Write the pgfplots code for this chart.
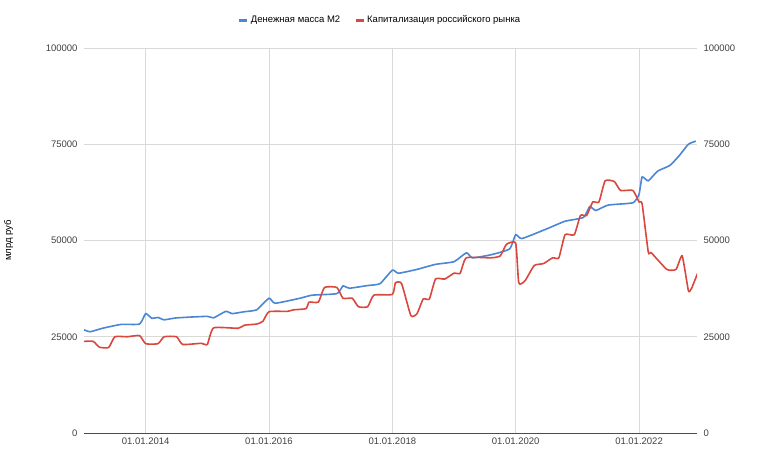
\documentclass[border=0pt]{standalone}
\usepackage{pgfplots}
\pgfplotsset{compat=1.18}
\usepackage{fontspec}
\setmainfont{Liberation Sans}
\definecolor{cb}{HTML}{4A86D4}
\definecolor{cr}{HTML}{D9473F}
\definecolor{gr}{HTML}{D9D9D9}
\begin{document}
\begin{tikzpicture}
\useasboundingbox (-84pt,-27pt) rectangle (674pt,433pt);
\begin{axis}[scale only axis, width=613pt, height=385pt, at={(0,0)}, anchor=south west,
 xmin=2013, xmax=2022.94, ymin=0, ymax=100000, scaled y ticks=false,
 xtick={2014,2016,2018,2020,2022},
 xticklabels={01.01.2014,01.01.2016,01.01.2018,01.01.2020,01.01.2022},
 ytick={0,25000,50000,75000,100000},
 yticklabels={0,25000,50000,75000,100000},
 axis y line*=left, axis x line*=bottom,
 y axis line style={draw=none}, x axis line style={draw=black!70},
 major tick length=0pt,
 grid=major, major grid style={gr, line width=0.8pt},
 tick label style={font=\fontsize{9.5}{10}\selectfont, text=black!75},
 yticklabel style={xshift=-3pt},
 xticklabel style={yshift=-1pt},
 ylabel={млрд руб}, ylabel style={font=\fontsize{9.5}{10}\selectfont, at={(rel axis cs:-0.11,0.5)}, anchor=south},
 legend columns=2,
 legend style={at={(rel axis cs:0.483,1.0727)}, anchor=center, draw=none, font=\fontsize{9.5}{10}\selectfont, /tikz/every even column/.append style={column sep=12pt}},
 legend image code/.code={\draw[#1, line width=3pt] (0pt,0pt) -- (8pt,0pt);},
 ]
\addplot[cb, line width=1.6pt, smooth, tension=0.3] coordinates {
(2013.0,26800)(2013.1,26300)(2013.3,27200)(2013.6,28200)(2013.9,28300)(2014.0,31000)(2014.1,29800)(2014.2,30000)(2014.3,29400)(2014.5,29900)(2015.0,30300)(2015.1,29900)(2015.3,31600)(2015.4,31000)(2015.6,31500)(2015.8,32000)(2016.0,35000)(2016.1,33700)(2016.5,35000)(2016.7,35800)(2017.1,36200)(2017.2,38200)(2017.3,37600)(2017.6,38300)(2017.8,38800)(2018.0,42300)(2018.1,41500)(2018.4,42500)(2018.7,43800)(2019.0,44500)(2019.2,46800)(2019.3,45500)(2019.6,46300)(2019.9,47800)(2020.0,51500)(2020.1,50500)(2020.5,53000)(2020.8,55000)(2021.1,56000)(2021.2,58800)(2021.3,57800)(2021.5,59200)(2021.9,59800)(2022.0,62000)(2022.05,66500)(2022.15,65500)(2022.3,68000)(2022.5,69500)(2022.65,72000)(2022.8,75000)(2022.92,75800)};
\addlegendentry{Денежная масса М2}
\addplot[cr, line width=1.6pt, smooth, tension=0.3] coordinates {
(2013.0,23800)(2013.15,23800)(2013.25,22300)(2013.4,22200)(2013.5,25000)(2013.7,25000)(2013.9,25300)(2014.0,23200)(2014.2,23200)(2014.3,25000)(2014.5,25000)(2014.6,23000)(2014.9,23300)(2015.0,23000)(2015.1,27300)(2015.5,27200)(2015.6,28000)(2015.8,28300)(2015.9,29000)(2016.0,31500)(2016.3,31600)(2016.4,32000)(2016.6,32300)(2016.65,34000)(2016.8,34000)(2016.9,37800)(2017.1,37800)(2017.2,35000)(2017.35,35000)(2017.45,32800)(2017.6,32800)(2017.7,35800)(2018.0,36000)(2018.05,39000)(2018.15,38800)(2018.3,30500)(2018.4,31000)(2018.5,34800)(2018.6,34800)(2018.7,40000)(2018.85,40000)(2019.0,41500)(2019.1,41500)(2019.2,45500)(2019.6,45500)(2019.75,46000)(2019.85,49000)(2020.0,49300)(2020.05,39000)(2020.15,39500)(2020.3,43500)(2020.45,44000)(2020.6,45500)(2020.7,45500)(2020.8,51500)(2020.95,51500)(2021.05,56500)(2021.15,56500)(2021.25,60000)(2021.35,60000)(2021.45,65500)(2021.6,65300)(2021.7,63000)(2021.9,63000)(2022.0,60000)(2022.05,59500)(2022.15,47000)(2022.2,46800)(2022.45,42500)(2022.6,42500)(2022.7,46000)(2022.8,37000)(2022.85,37500)(2022.95,41500)};
\addlegendentry{Капитализация российского рынка}
\end{axis}
\begin{axis}[scale only axis, width=613pt, height=385pt, at={(0,0)}, anchor=south west,
 xmin=2013, xmax=2022.94, ymin=0, ymax=100000, scaled y ticks=false,
 axis y line*=right, axis x line=none, y axis line style={draw=none},
 major tick length=0pt,
 ytick={0,25000,50000,75000,100000},
 yticklabels={0,25000,50000,75000,100000},
 tick label style={font=\fontsize{9.5}{10}\selectfont, text=black!75},
 yticklabel style={xshift=3pt}]
\addplot[draw=none] coordinates {(2013,0)};
\end{axis}
\end{tikzpicture}
\end{document}
